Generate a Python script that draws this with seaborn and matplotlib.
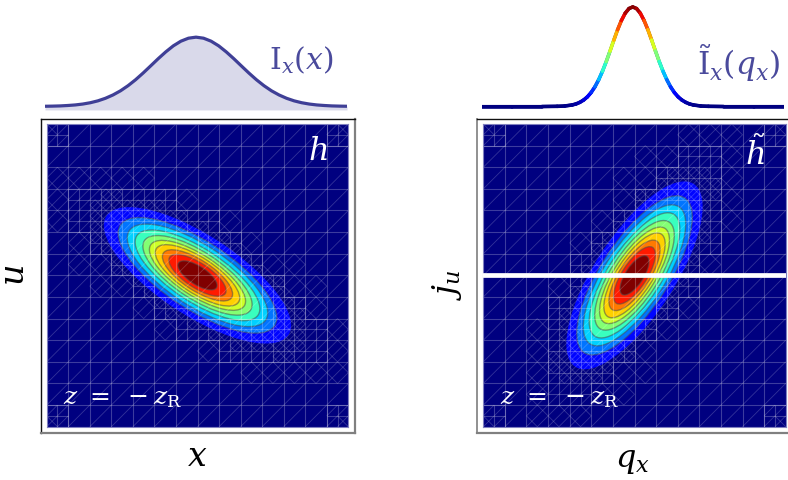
import numpy as np
import seaborn as sns
import matplotlib
matplotlib.use("Agg")
import matplotlib.pyplot as plt
from matplotlib.collections import LineCollection
from matplotlib.patches import Ellipse

# --------------------
# Values
# --------------------
# half profiles, mirrored around the peak
ix_pos = [0, .05, .1, .15, .2, .25, .3, .35, .4, .45, .5, .55, .6, .65, .7, .75, .8, .85, .9, .95, 1]
ix_val = [1, .985, .942, .875, .788, .69, .586, .483, .386, .3, .226, .166, .118, .081, .054, .035, .022, .014, .008, .005, .003]
iq_pos = [0, .025, .05, .075, .1, .125, .15, .175, .2, .225, .25, .275, .3, .325, .35, .375, .4, .45, .5, .6, .8, 1]
iq_val = [1, .984, .937, .864, .772, .667, .558, .452, .355, .27, .198, .141, .097, .065, .042, .026, .016, .005, .002, 0, 0, 0]

# contour bands, outer to inner
band_major = [.72, .61, .54, .48, .42, .37, .325, .27, .22, .15]
band_minor = [.265, .225, .2, .175, .155, .135, .118, .1, .082, .06]
band_level = [.13, .24, .33, .42, .51, .6, .69, .78, .88, 1.0]
h_angle = -33
ht_angle = 57

NAVY = "#3f3f96"
W, H = 788, 480
sns.set_theme(style="white")
plt.rcParams["mathtext.fontset"] = "dejavuserif"
jet = matplotlib.colormaps["jet"]


def px_axes(fig, x0, y0, x1, y1):
    # axes from pixel box, y measured from the top
    return fig.add_axes([x0 / W, 1 - y1 / H, (x1 - x0) / W, (y1 - y0) / H])


def mesh_lines(angle):
    # refined triangle mesh over a 14x14 grid, shared edges only once
    t = np.radians(angle)
    a, b = band_major[0], band_minor[0]

    def radius(x, y):
        u = x * np.cos(t) + y * np.sin(t)
        v = -x * np.sin(t) + y * np.cos(t)
        return np.hypot(u / a, v / b)

    main, thin = set(), set()

    def seg(p, q):
        return tuple(sorted([(round(p[0], 4), round(p[1], 4)), (round(q[0], 4), round(q[1], 4))]))

    def cell(x, y, s, depth):
        r = radius(x + s / 2, y + s / 2)
        corner = depth == 0 and abs(x + s / 2) > .9 and abs(y + s / 2) > .9
        if corner or (depth == 0 and .75 < r < 1.35):
            for i in range(2):
                for j in range(2):
                    cell(x + i * s / 2, y + j * s / 2, s / 2, depth + 1)
            return
        main.add(seg((x, y), (x + s, y)))
        main.add(seg((x, y), (x, y + s)))
        main.add(seg((x + s, y), (x + s, y + s)))
        main.add(seg((x, y + s), (x + s, y + s)))
        thin.add(seg((x, y), (x + s, y + s)))
        # diamonds where a coarse or half cell meets a refined part
        if (depth == 0 and 1.35 <= r < 1.7) or (depth == 1 and .85 < r < 1.2):
            mx, my = x + s / 2, y + s / 2
            thin.add(seg((mx, y), (x + s, my)))
            thin.add(seg((x + s, my), (mx, y + s)))
            thin.add(seg((mx, y + s), (x, my)))
            thin.add(seg((x, my), (mx, y)))
        if depth > 0 and abs(x + s / 2) > .9 and abs(y + s / 2) > .9:
            thin.add(seg((x, y + s), (x + s, y)))

    step = 2 / 14
    for i in range(14):
        for j in range(14):
            cell(-1 + i * step, -1 + j * step, step, 0)
    return list(main), list(thin)


def draw_panel(ax, angle):
    ax.set_facecolor(jet(0.0))
    ax.set_xlim(-1, 1)
    ax.set_ylim(-1, 1)
    ax.set_xticks([])
    ax.set_yticks([])
    for sp in ax.spines.values():
        sp.set_color("#8080c0")
        sp.set_linewidth(.8)
    for i, (maj, mnr, lev) in enumerate(zip(band_major, band_minor, band_level)):
        ax.add_patch(Ellipse((0, 0), 2 * maj, 2 * mnr, angle=angle, facecolor=jet(lev),
                             edgecolor=(.3, .3, .3, .55 if i else 0), linewidth=1))
    main, thin = mesh_lines(angle)
    ax.add_collection(LineCollection(main, colors=[(1, 1, 1, .24)], linewidths=.8))
    ax.add_collection(LineCollection(thin, colors=[(1, 1, 1, .2)], linewidths=.6))


def draw_frame(fig, x0, y0, x1, y1, side_gray):
    ax = px_axes(fig, x0, y0, x1, y1)
    ax.set_xticks([])
    ax.set_yticks([])
    ax.spines["top"].set_color("#111111")
    ax.spines["top"].set_linewidth(1)
    ax.spines["left"].set_color("#888888" if side_gray else "#111111")
    ax.spines["left"].set_linewidth(1.3 if side_gray else 1)
    for s in ["right", "bottom"]:
        ax.spines[s].set_color("#808080")
        ax.spines[s].set_linewidth(1.6)


fig = plt.figure(figsize=(W / 100, H / 100), dpi=100, facecolor="white")

# --------------------
# Left column
# --------------------
draw_frame(fig, 41, 118.5, 355, 432.5, False)
ax_h = px_axes(fig, 46.7, 124, 348.3, 426.7)
draw_panel(ax_h, h_angle)

top_l = px_axes(fig, 45, 0, 347, 112)
x_l = np.r_[-np.array(ix_pos[:0:-1]), ix_pos]
y_l = np.r_[ix_val[:0:-1], ix_val]
top_l.fill_between(x_l, y_l, -.05, color="#d9d9ea", linewidth=0)
sns.lineplot(x=x_l, y=y_l, ax=top_l, color=NAVY, linewidth=2.3, errorbar=None)
top_l.lines[-1].set_solid_capstyle("butt")
top_l.set_xlim(-1, 1)
top_l.set_ylim(-.0797, 1.536)
top_l.axis("off")

# --------------------
# Right column
# --------------------
draw_frame(fig, 477, 118.5, 800, 432.5, True)
ax_ht = px_axes(fig, 483.3, 124, 785.7, 426.7)
draw_panel(ax_ht, ht_angle)
ax_ht.axhline(0, color="white", linewidth=3.4, zorder=5)

top_r = px_axes(fig, 481.5, 0, 784, 112)
x_r = np.r_[-np.array(iq_pos[:0:-1]), iq_pos]
y_r = np.r_[iq_val[:0:-1], iq_val]
sns.lineplot(x=x_r, y=y_r, ax=top_r, color=jet(0.0), linewidth=2.3, errorbar=None)
top_r.lines[-1].set_solid_capstyle("butt")
segs = np.stack([np.c_[x_r[:-1], y_r[:-1]], np.c_[x_r[1:], y_r[1:]]], axis=1)
rainbow = LineCollection(segs, cmap=jet, linewidths=2.6, capstyle="round")
rainbow.set_array((y_r[:-1] + y_r[1:]) / 2)
rainbow.set_clim(0, 1)
top_r.add_collection(rainbow)
top_r.set_xlim(-1, 1)
top_r.set_ylim(-.055, 1.07)
top_r.axis("off")

# --------------------
# Labels, in pixel positions of the whole figure
# --------------------
def label(px, py, s, size, color="black", rotation=0):
    fig.text(px / W, 1 - py / H, s, fontsize=size, color=color, rotation=rotation, ha="center", va="center")


label(197, 456, r"$x$", 24)
label(15, 275, r"$u$", 24, rotation=90)
label(632, 460, r"$q_x$", 23)
label(447, 285, r"$j_u$", 23, rotation=90)
label(301, 60, r"$\mathrm{I}_x(x)$", 21.5, color="#4a4a9c")
label(738, 63, r"$\tilde{\mathrm{I}}_x(q_x)$", 22.5, color="#4a4a9c")
label(318, 152, r"$h$", 23, color="white")
label(755, 154, r"$\tilde{h}$", 23, color="white")
label(122, 398, r"$z\ =\ -z_{\mathrm{R}}$", 18, color="white")
label(559, 398, r"$z\ =\ -z_{\mathrm{R}}$", 18, color="white")

fig.savefig("out.png", dpi=100)
